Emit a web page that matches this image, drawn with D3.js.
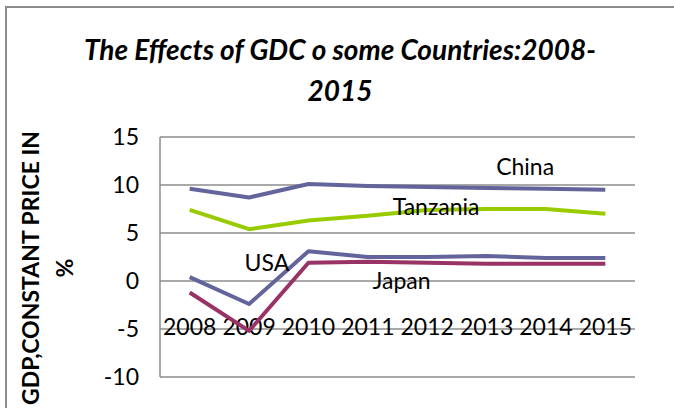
<!DOCTYPE html>
<html><head><meta charset="utf-8">
<script src="https://cdn.jsdelivr.net/npm/d3@7"></script>
<style>html,body{margin:0;padding:0;background:#fff;}svg{display:block;font-family:Lato,"Open Sans",sans-serif;}</style>
</head><body>
<svg id="c" width="674" height="408"></svg>
<script>
const years = ["2008","2009","2010","2011","2012","2013","2014","2015"];
const china    = [9.6, 8.7, 10.1, 9.9, 9.8, 9.7, 9.6, 9.5];
const tanzania = [7.4, 5.4, 6.3, 6.8, 7.4, 7.5, 7.5, 7.0];
const usa      = [0.4, -2.4, 3.1, 2.5, 2.5, 2.6, 2.4, 2.4];
const japan    = [-1.2, -5.2, 1.9, 2.0, 1.9, 1.8, 1.8, 1.8];
const yTicks   = [-10, -5, 0, 5, 10, 15];
const seriesNames  = ["China", "Tanzania", "USA", "Japan"];
const seriesColors = ["#64649c", "#99cc00", "#64649c", "#993366"];
const seriesData   = [china, tanzania, usa, japan];
const labelPos = [
  {name:"China", xi:5.65, v:11.6},
  {name:"Tanzania", xi:4.15, v:7.5},
  {name:"USA", xi:1.3, v:1.6},
  {name:"Japan", xi:3.57, v:-0.2}
];

(function(){
const svg = d3.select("#c");
svg.append("path").attr("d","M6,408 V7 H674").attr("fill","none").attr("stroke","#8c8c8c").attr("stroke-width",2);

const pL=160, pR=635, pT=137, pB=377;
const x = d3.scaleBand().domain(years).range([pL,pR]);
const y = d3.scaleLinear().domain([-10,15]).range([pB,pT]);

svg.append("g").selectAll("line").data(yTicks).join("line")
  .attr("x1",pL).attr("x2",pR).attr("y1",d=>y(d)).attr("y2",d=>y(d))
  .attr("stroke","#8c8c8c").attr("stroke-width",1.5);
svg.append("line").attr("x1",pL).attr("x2",pL).attr("y1",pT).attr("y2",pB)
  .attr("stroke","#8c8c8c").attr("stroke-width",1.5);

const yAxis = d3.axisLeft(y).tickValues(yTicks).tickSize(0).tickPadding(21).tickFormat(d=>String(d));
const ga = svg.append("g").attr("transform",`translate(${pL},0)`).call(yAxis);
ga.select(".domain").remove();
ga.selectAll("text").attr("font-size",23).attr("fill","#000").attr("font-family","Lato");

const xAxis = d3.axisBottom(x).tickSize(0).tickPadding(0);
const gx = svg.append("g").attr("transform",`translate(0,${y(-3.95)})`).call(xAxis);
gx.select(".domain").remove();
gx.selectAll("text").attr("font-size",23).attr("fill","#000").attr("font-family","Lato");

const line = d3.line().x((d,i)=>x(years[i])+x.bandwidth()/2).y(d=>y(d));
seriesData.forEach((s,k)=>{
  svg.append("path").datum(s).attr("d",line).attr("fill","none")
    .attr("stroke",seriesColors[k]).attr("stroke-width",4).attr("stroke-linejoin","round");
});

const xi = i => x(years[0]) + x.bandwidth()/2 + i*x.step();
svg.append("g").selectAll("text").data(labelPos).join("text")
  .attr("x",d=>xi(d.xi)).attr("y",d=>y(d.v)).attr("text-anchor","middle")
  .attr("dominant-baseline","middle").attr("font-size",23).attr("fill","#000").text(d=>d.name);

svg.append("text").attr("x",340).attr("y",60).attr("text-anchor","middle")
  .attr("font-size",28).attr("font-weight","bold").attr("font-style","italic")
  .text("The Effects of GDC o some Countries:2008-");
svg.append("text").attr("x",340).attr("y",101).attr("text-anchor","middle")
  .attr("font-size",28).attr("font-weight","bold").attr("font-style","italic")
  .text("2015");

svg.append("text").attr("transform","translate(39,268) rotate(-90)").attr("text-anchor","middle")
  .attr("font-size",23).attr("font-weight","bold").text("GDP,CONSTANT PRICE IN");
svg.append("text").attr("transform","translate(73,268) rotate(-90)").attr("text-anchor","middle")
  .attr("font-size",23).attr("font-weight","bold").text("%");
})();
</script>
</body></html>
